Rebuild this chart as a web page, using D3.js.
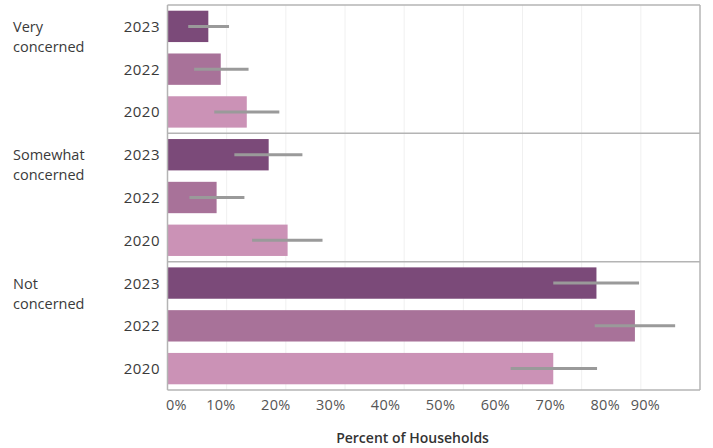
<!DOCTYPE html>
<html>
<head>
<meta charset="utf-8">
<script src="https://cdn.jsdelivr.net/npm/d3@7"></script>
<style>
  html, body { margin: 0; padding: 0; background: #fff; }
  svg { display: block; font-family: "Open Sans", "Noto Sans", sans-serif; }
</style>
</head>
<body>
<svg id="chart" width="713" height="448"></svg>
<script>
// Household concern levels by survey year, with confidence intervals
const concernLevels = ["Very concerned", "Somewhat concerned", "Not concerned"];
const years = ["2023", "2022", "2020"];
// percent of households, rows follow concernLevels, columns follow years
const shares = [
  [6.9, 9.0, 13.4],
  [17.1, 8.3, 20.3],
  [72.5, 79.0, 65.2]
];
const lowerBounds = [
  [3.5, 4.5, 7.9],
  [11.3, 3.7, 14.3],
  [65.2, 72.2, 58.0]
];
const upperBounds = [
  [10.4, 13.7, 18.9],
  [22.8, 13.0, 26.2],
  [79.7, 85.8, 72.6]
];
const tickValues = [0, 10, 20, 30, 40, 50, 60, 70, 80, 90];
const yearColors = { "2023": "#7b4a79", "2022": "#a87299", "2020": "#cb92b6" };

const svg = d3.select("#chart");
const plot = { left: 167.5, right: 700, top: 5, bottom: 390 };

const x = d3.scaleLinear().domain([0, 90]).range([plot.left, plot.right]);
// tick labels sit on a slightly narrower band below the panes
const xLabel = d3.scaleLinear().domain([0, 90]).range([165.5, 659.6]);

const pane = d3.scaleBand().domain(concernLevels).range([plot.top, plot.bottom]);
const row = d3.scaleBand().domain(years).range([0, pane.bandwidth()])
  .paddingInner(0.267).paddingOuter(0.1335);

// vertical gridlines
svg.append("g").selectAll("line")
  .data(tickValues.slice(1, -1))
  .join("line")
  .attr("x1", d => x(d)).attr("x2", d => x(d))
  .attr("y1", plot.top).attr("y2", plot.bottom)
  .attr("stroke", "#f0f0f0").attr("stroke-width", 1);

const panes = svg.append("g").selectAll("g")
  .data(concernLevels)
  .join("g")
  .attr("transform", d => `translate(0,${pane(d)})`);

panes.each(function (level, i) {
  const g = d3.select(this);
  const recs = years.map((yr, j) => ({
    year: yr, v: shares[i][j], lo: lowerBounds[i][j], hi: upperBounds[i][j]
  }));

  g.selectAll("rect.bar")
    .data(recs)
    .join("rect")
    .attr("class", "bar")
    .attr("x", x(0))
    .attr("y", d => row(d.year))
    .attr("width", d => x(d.v) - x(0))
    .attr("height", row.bandwidth())
    .attr("fill", d => yearColors[d.year]);

  g.selectAll("line.err")
    .data(recs)
    .join("line")
    .attr("class", "err")
    .attr("x1", d => x(d.lo)).attr("x2", d => x(d.hi))
    .attr("y1", d => row(d.year) + row.bandwidth() / 2)
    .attr("y2", d => row(d.year) + row.bandwidth() / 2)
    .attr("stroke", "#9a9a9a").attr("stroke-width", 3);

  // year labels
  g.selectAll("text.yr")
    .data(recs)
    .join("text")
    .attr("class", "yr")
    .attr("x", 160)
    .attr("y", d => row(d.year) + row.bandwidth() / 2 + 1.5)
    .attr("text-anchor", "end")
    .attr("dominant-baseline", "middle")
    .attr("font-size", 15)
    .attr("letter-spacing", 0.5)
    .attr("fill", "#3a3a3a")
    .text(d => d.year);

  // concern level header, wrapped on two lines
  const words = level.split(" ");
  const head = g.append("text")
    .attr("x", 13)
    .attr("y", row(years[0]) + row.bandwidth() / 2 + 1.5)
    .attr("dominant-baseline", "middle")
    .attr("font-size", 14.5)
    .attr("fill", "#3a3a3a");
  words.forEach((w, k) => {
    head.append("tspan").attr("x", 13).attr("dy", k === 0 ? 0 : 20).text(w);
  });
});

// pane frame and separators
const frame = svg.append("g").attr("stroke", "#b4b4b4").attr("fill", "none");
frame.append("line").attr("x1", plot.left).attr("x2", plot.right)
  .attr("y1", plot.top).attr("y2", plot.top).attr("stroke-width", 1.5);
frame.append("line").attr("x1", plot.right).attr("x2", plot.right)
  .attr("y1", plot.top).attr("y2", plot.bottom).attr("stroke-width", 1.5);
concernLevels.slice(1).forEach(level => {
  frame.append("line").attr("x1", plot.left).attr("x2", plot.right)
    .attr("y1", pane(level)).attr("y2", pane(level)).attr("stroke-width", 1.5);
});
frame.append("line").attr("x1", plot.left).attr("x2", plot.right)
  .attr("y1", plot.bottom).attr("y2", plot.bottom).attr("stroke-width", 1.5);
frame.append("line").attr("x1", plot.left).attr("x2", plot.left)
  .attr("y1", plot.top).attr("y2", plot.bottom).attr("stroke-width", 1.5);

// bottom axis labels
const axis = svg.append("g")
  .attr("transform", `translate(0,${plot.bottom})`)
  .call(d3.axisBottom(xLabel).tickValues(tickValues).tickSize(0).tickPadding(10)
    .tickFormat(d => d + "%"));
axis.select(".domain").remove();
axis.selectAll("text")
  .attr("font-size", 14.5)
  .attr("font-family", "\"Open Sans\", sans-serif")
  .attr("letter-spacing", 0.3)
  .attr("fill", "#555")
  .attr("text-anchor", (d, i, n) => i === 0 ? "start" : (i === n.length - 1 ? "end" : "middle"));

svg.append("text")
  .attr("x", (xLabel.range()[0] + xLabel.range()[1]) / 2)
  .attr("y", 443)
  .attr("text-anchor", "middle")
  .attr("font-size", 14)
  .attr("font-weight", 600)
  .attr("fill", "#333")
  .text("Percent of Households");
</script>
</body>
</html>
